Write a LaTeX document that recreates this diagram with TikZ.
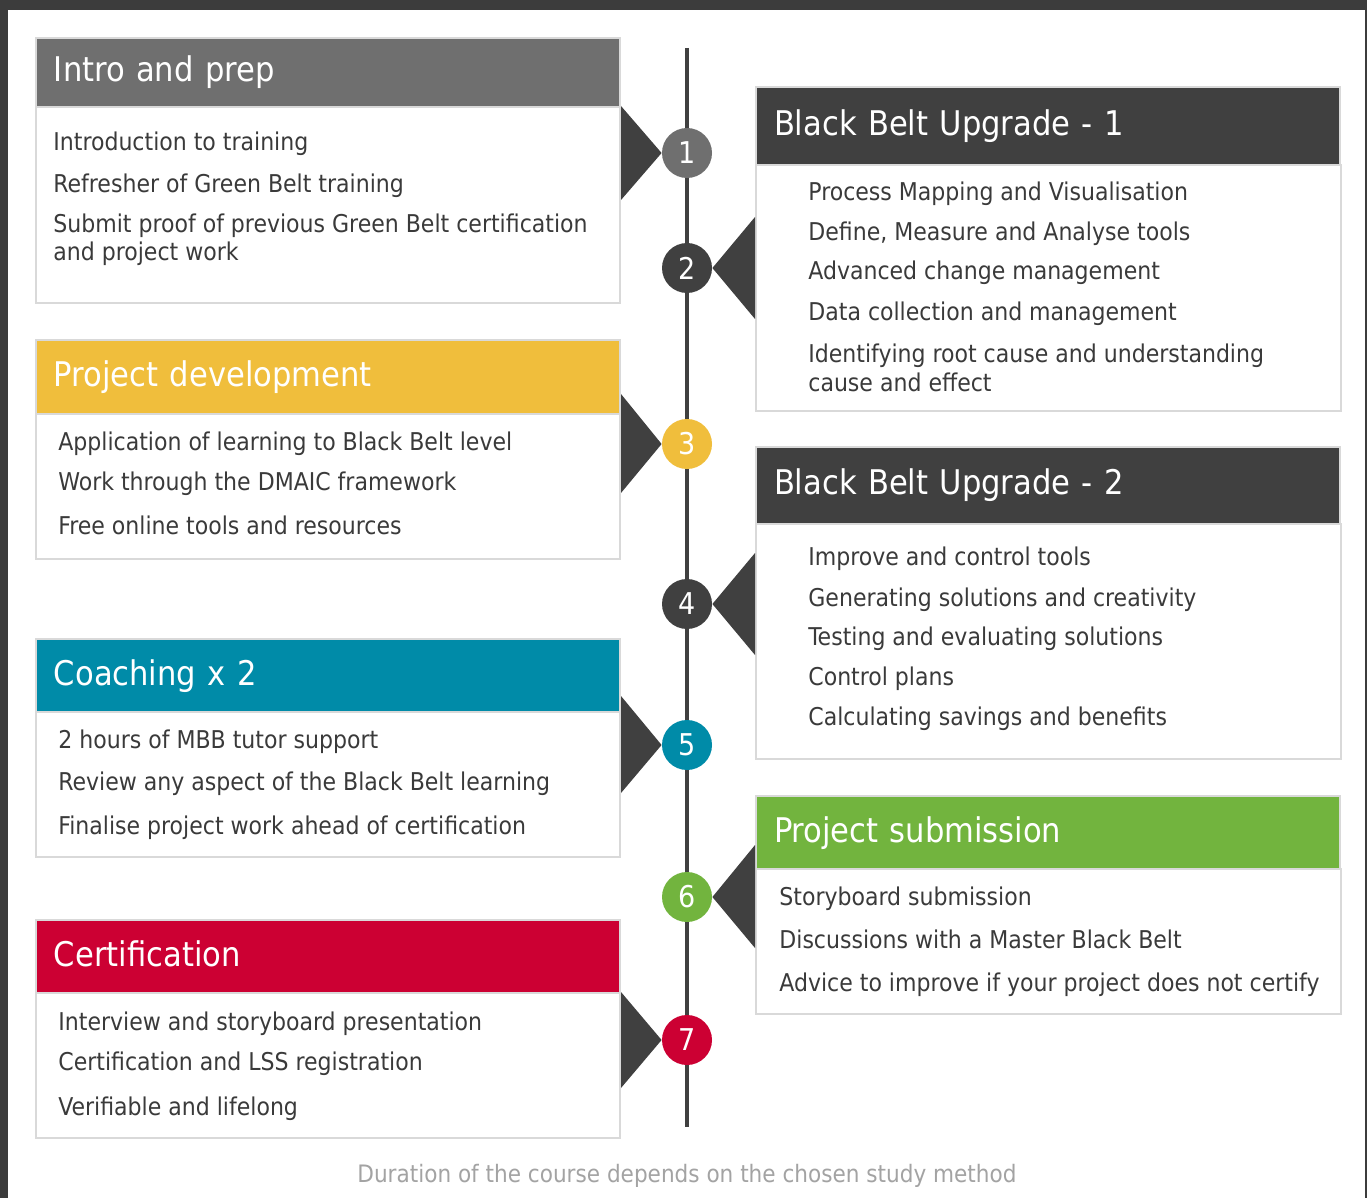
\documentclass[tikz,border=0pt]{standalone}
\usepackage{fontspec}
\setmainfont{DejaVu Sans Condensed}
\usetikzlibrary{calc}
\definecolor{framedark}{HTML}{3C3C3C}
\definecolor{linedark}{HTML}{404040}
\definecolor{boxline}{HTML}{D9D9D9}
\definecolor{textdark}{HTML}{3A3A3A}
\definecolor{introgray}{HTML}{6F6F6F}
\definecolor{devyellow}{HTML}{F0BE3C}
\definecolor{coachteal}{HTML}{008BA8}
\definecolor{subgreen}{HTML}{72B43E}
\definecolor{certred}{HTML}{CC0033}
\definecolor{notegray}{HTML}{A3A3A3}

\tikzset{
  hdr/.style={anchor=north west, draw=boxline, line width=1pt, inner xsep=9pt, inner ysep=0pt,
    text width=274pt, align=left, text=white, text height=0.95em, text depth=0pt,
    font=\fontsize{17}{20}\selectfont},
  body/.style={anchor=north west, draw=boxline, line width=1pt, fill=white, inner sep=0pt},
  item/.style={anchor=base west, inner sep=0pt, text=textdark, font=\fontsize{12.25}{14}\selectfont},
  stepdot/.style={circle, minimum size=25pt, inner sep=0pt, text=white,
    font=\fontsize{15}{17}\selectfont},
  wing/.style={fill=linedark},
  note/.style={text=notegray, font=\fontsize{12}{14}\selectfont}
}

\begin{document}
\begin{tikzpicture}[x=0.5pt,y=-0.5pt]
	\useasboundingbox (0,0) rectangle (1367,1198);

	% frame
	\fill[framedark] (0,0) rectangle (1367,1198);
	\fill[white] (8,10) rectangle (1365,1198);

	% timeline
	\coordinate (start) at (687,48);
	\coordinate (end) at (687,1127);
	\draw[line width=2pt,linedark] (start) -- (end);

	% steps
	\node[stepdot,fill=introgray] (s1) at (687,153) {1};
	\node[stepdot,fill=linedark] (s2) at (687,268) {2};
	\node[stepdot,fill=devyellow] (s3) at (687,444) {3};
	\node[stepdot,fill=linedark] (s4) at (687,604) {4};
	\node[stepdot,fill=coachteal] (s5) at (687,745) {5};
	\node[stepdot,fill=subgreen] (s6) at (687,897) {6};
	\node[stepdot,fill=certred] (s7) at (687,1040) {7};

	% intro and prep
	\node[body,minimum width=292pt,minimum height=98pt] (b1) at (35,106) {};
	\node[hdr,fill=introgray,minimum height=34.5pt] (h1) at (35,37) {Intro and prep};
	\node[item] (i11) at (53,151) {Introduction to training};
	\node[item] (i12) at (53,193) {Refresher of Green Belt training};
	\node[item] (i13) at (53,233) {Submit proof of previous Green Belt certification};
	\node[item] (i14) at (53,261) {and project work};
	\fill[wing] (s1.west) -- ($(s1.west -| b1.east)+(0,-47)$) -- ($(s1.west -| b1.east)+(0,47)$) -- cycle;

	% black belt upgrade 1
	\node[body,minimum width=292.5pt,minimum height=123pt] (b2) at (755,164) {};
	\node[hdr,fill=linedark,minimum height=39pt] (h2) at (755,86) {Black Belt Upgrade - 1};
	\node[item] (i21) at (808,201) {Process Mapping and Visualisation};
	\node[item] (i22) at (808,241) {Define, Measure and Analyse tools};
	\node[item] (i23) at (808,280) {Advanced change management};
	\node[item] (i24) at (808,321) {Data collection and management};
	\node[item] (i25) at (808,363) {Identifying root cause and understanding};
	\node[item] (i26) at (808,392) {cause and effect};
	\fill[wing] (s2.east) -- ($(s2.east -| b2.west)+(0,-51)$) -- ($(s2.east -| b2.west)+(0,51)$) -- cycle;

	% project development
	\node[body,minimum width=292pt,minimum height=72.5pt] (b3) at (35,413) {};
	\node[hdr,fill=devyellow,minimum height=37pt] (h3) at (35,339) {Project development};
	\node[item] (i31) at (58,451) {Application of learning to Black Belt level};
	\node[item] (i32) at (58,491) {Work through the DMAIC framework};
	\node[item] (i33) at (58,535) {Free online tools and resources};
	\fill[wing] (s3.west) -- ($(s3.west -| b3.east)+(0,-50)$) -- ($(s3.west -| b3.east)+(0,49)$) -- cycle;

	% black belt upgrade 2
	\node[body,minimum width=292.5pt,minimum height=117.5pt] (b4) at (755,523) {};
	\node[hdr,fill=linedark,minimum height=38.5pt] (h4) at (755,446) {Black Belt Upgrade - 2};
	\node[item] (i41) at (808,566) {Improve and control tools};
	\node[item] (i42) at (808,606) {Generating solutions and creativity};
	\node[item] (i43) at (808,645) {Testing and evaluating solutions};
	\node[item] (i44) at (808,685) {Control plans};
	\node[item] (i45) at (808,725) {Calculating savings and benefits};
	\fill[wing] (s4.east) -- ($(s4.east -| b4.west)+(0,-51)$) -- ($(s4.east -| b4.west)+(0,51)$) -- cycle;

	% coaching
	\node[body,minimum width=292pt,minimum height=72.5pt] (b5) at (35,711) {};
	\node[hdr,fill=coachteal,minimum height=36.5pt] (h5) at (35,638) {Coaching x 2};
	\node[item] (i51) at (58,748) {2 hours of MBB tutor support};
	\node[item] (i52) at (58,790) {Review any aspect of the Black Belt learning};
	\node[item] (i53) at (58,834) {Finalise project work ahead of certification};
	\fill[wing] (s5.west) -- ($(s5.west -| b5.east)+(0,-49)$) -- ($(s5.west -| b5.east)+(0,48)$) -- cycle;

	% project submission
	\node[body,minimum width=292.5pt,minimum height=72.5pt] (b6) at (755,868) {};
	\node[hdr,fill=subgreen,minimum height=36.5pt] (h6) at (755,795) {Project submission};
	\node[item] (i61) at (779,905) {Storyboard submission};
	\node[item] (i62) at (779,948) {Discussions with a Master Black Belt};
	\node[item] (i63) at (779,991) {Advice to improve if your project does not certify};
	\fill[wing] (s6.east) -- ($(s6.east -| b6.west)+(0,-52)$) -- ($(s6.east -| b6.west)+(0,51)$) -- cycle;

	% certification
	\node[body,minimum width=292pt,minimum height=72.5pt] (b7) at (35,992) {};
	\node[hdr,fill=certred,minimum height=36.5pt] (h7) at (35,919) {Certification};
	\node[item] (i71) at (58,1030) {Interview and storyboard presentation};
	\node[item] (i72) at (58,1070) {Certification and LSS registration};
	\node[item] (i73) at (58,1115) {Verifiable and lifelong};
	\fill[wing] (s7.west) -- ($(s7.west -| b7.east)+(0,-48)$) -- ($(s7.west -| b7.east)+(0,48)$) -- cycle;

	% footer
	\node[note] (foot) at (687,1176) {Duration of the course depends on the chosen study method};

\end{tikzpicture}
\end{document}
